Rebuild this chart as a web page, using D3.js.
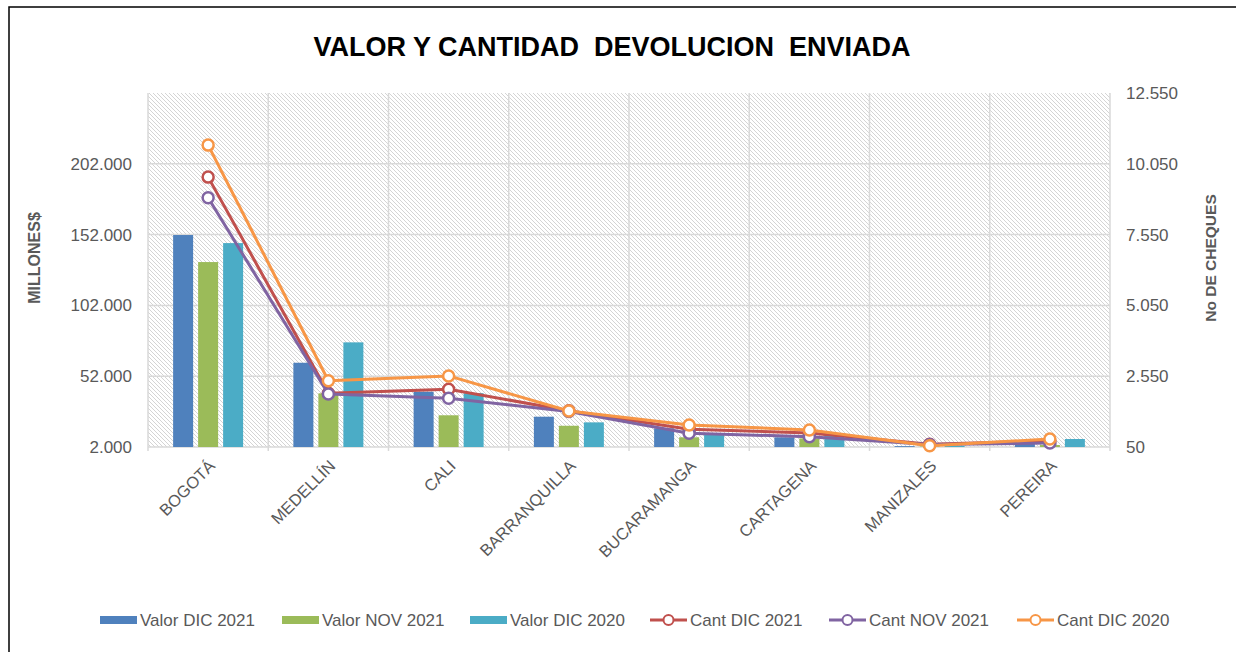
<!DOCTYPE html>
<html>
<head>
<meta charset="utf-8">
<script src="https://cdn.jsdelivr.net/npm/d3@7"></script>
<style>
  body { margin: 0; background: #fff; }
  text { font-family: "Liberation Sans", Arial, sans-serif; }
</style>
</head>
<body>
<div class="chart"></div>
<script>
// data
var categories = ["BOGOTÁ", "MEDELLÍN", "CALI", "BARRANQUILLA", "BUCARAMANGA", "CARTAGENA", "MANIZALES", "PEREIRA"];
var valorDic2021 = [151700, 61500, 41000, 23400, 15200, 8850, 2600, 4100];
var valorNov2021 = [132600, 39900, 24400, 17000, 8850, 8100, 2400, 3400];
var valorDic2020 = [146000, 75900, 40000, 19400, 10500, 11000, 2800, 7650];
var cantDic2021 = [9580, 1950, 2090, 1330, 680, 544, 150, 262];
var cantNov2021 = [8850, 1920, 1770, 1300, 534, 414, 140, 191];
var cantDic2020 = [10710, 2390, 2560, 1320, 827, 650, 96, 332];
var leftTicks = [2000, 52000, 102000, 152000, 202000];
var rightTicks = [50, 2550, 5050, 7550, 10050, 12550];

var barSeries = [
  {name: "Valor DIC 2021", values: valorDic2021, color: "#4F81BD"},
  {name: "Valor NOV 2021", values: valorNov2021, color: "#9BBB59"},
  {name: "Valor DIC 2020", values: valorDic2020, color: "#4BACC6"}
];
var lineSeries = [
  {name: "Cant DIC 2021", values: cantDic2021, color: "#C0504D"},
  {name: "Cant NOV 2021", values: cantNov2021, color: "#8064A2"},
  {name: "Cant DIC 2020", values: cantDic2020, color: "#F79646"}
];

var width = 1236, height = 652;
var pLeft = 148, pRight = 1110, pTop = 93, pBottom = 447;
var groupW = 70;

var loc = d3.formatLocale({decimal: ",", thousands: ".", grouping: [3], currency: ["", ""]});
var fmt = loc.format(",d");

var svg = d3.select(".chart").append("svg")
  .attr("width", width)
  .attr("height", height);

// hatch background
var defs = svg.append("defs");
defs.append("pattern")
  .attr("id", "hatch")
  .attr("patternUnits", "userSpaceOnUse")
  .attr("width", 4).attr("height", 4)
  .append("path")
  .attr("d", "M-1,-1L5,5M-1,3L1,5M3,-1L5,1")
  .attr("stroke", "#d4d4d4")
  .attr("stroke-width", 1);

// frame
svg.append("path")
  .attr("d", "M9," + height + "V7H" + width)
  .attr("fill", "none")
  .attr("stroke", "#000")
  .attr("stroke-width", 1.5);

var x = d3.scaleBand().domain(categories).range([pLeft, pRight]);
var xInner = d3.scaleBand().domain(barSeries.map(function(s) { return s.name; }))
  .range([0, groupW]).paddingInner(0.2);
var yL = d3.scaleLinear().domain([2000, 252000]).range([pBottom, pTop]);
var yR = d3.scaleLinear().domain([50, 12550]).range([pBottom, pTop]);

svg.append("rect")
  .attr("x", pLeft).attr("y", pTop)
  .attr("width", pRight - pLeft).attr("height", pBottom - pTop)
  .attr("fill", "url(#hatch)");

// grid
svg.append("g").selectAll("line")
  .data(leftTicks.slice(1))
  .enter().append("line")
  .attr("x1", pLeft).attr("x2", pRight)
  .attr("y1", function(d) { return yL(d); })
  .attr("y2", function(d) { return yL(d); })
  .attr("stroke", "#d9d9d9").attr("stroke-width", 1.5);

var bounds = categories.map(function(c) { return x(c); }).concat([pRight]);
svg.append("g").selectAll("line")
  .data(bounds)
  .enter().append("line")
  .attr("x1", function(d) { return d; }).attr("x2", function(d) { return d; })
  .attr("y1", pTop).attr("y2", pBottom + 4)
  .attr("stroke", "#d9d9d9").attr("stroke-width", 1.5);

svg.append("line")
  .attr("x1", pLeft).attr("x2", pRight)
  .attr("y1", pBottom).attr("y2", pBottom)
  .attr("stroke", "#d9d9d9").attr("stroke-width", 1.5);

// bars
barSeries.forEach(function(s) {
  svg.append("g").selectAll("rect")
    .data(s.values)
    .enter().append("rect")
    .attr("x", function(d, i) { return x(categories[i]) + (x.bandwidth() - groupW) / 2 + xInner(s.name); })
    .attr("width", xInner.bandwidth())
    .attr("y", function(d) { return yL(d); })
    .attr("height", function(d) { return pBottom - yL(d); })
    .attr("fill", s.color);
});

// lines
var line = d3.line()
  .x(function(d, i) { return x(categories[i]) + x.bandwidth() / 2; })
  .y(function(d) { return yR(d); });

lineSeries.forEach(function(s) {
  var g = svg.append("g");
  g.append("path")
    .attr("d", line(s.values))
    .attr("fill", "none")
    .attr("stroke", s.color)
    .attr("stroke-width", 3)
    .attr("stroke-linejoin", "round");
  g.selectAll("circle")
    .data(s.values)
    .enter().append("circle")
    .attr("cx", function(d, i) { return x(categories[i]) + x.bandwidth() / 2; })
    .attr("cy", function(d) { return yR(d); })
    .attr("r", 5.5)
    .attr("fill", "#fff")
    .attr("stroke", s.color)
    .attr("stroke-width", 2.5);
});

// axes
var axL = svg.append("g")
  .attr("transform", "translate(" + pLeft + ",0)")
  .call(d3.axisLeft(yL).tickValues(leftTicks).tickFormat(fmt).tickSize(0).tickPadding(16));
var axR = svg.append("g")
  .attr("transform", "translate(" + pRight + ",0)")
  .call(d3.axisRight(yR).tickValues(rightTicks).tickFormat(fmt).tickSize(0).tickPadding(16));
[axL, axR].forEach(function(a) {
  a.select(".domain").remove();
  a.selectAll("text").attr("fill", "#595959").style("font-size", "17px")
    .style("font-family", "'Liberation Sans', Arial, sans-serif");
});

var axX = svg.append("g")
  .attr("transform", "translate(0," + pBottom + ")")
  .call(d3.axisBottom(x).tickSize(0).tickPadding(0));
axX.select(".domain").remove();
axX.selectAll("text")
  .attr("fill", "#595959")
  .style("font-size", "16.5px")
  .style("font-family", "'Liberation Sans', Arial, sans-serif")
  .attr("text-anchor", "end")
  .attr("dy", null)
  .attr("y", 0)
  .attr("transform", "translate(8,20) rotate(-45)");

// axis titles
svg.append("text")
  .attr("transform", "translate(40,258) rotate(-90)")
  .attr("text-anchor", "middle")
  .attr("fill", "#595959")
  .style("font-size", "16px").style("font-weight", "bold")
  .text("MILLONES$");
svg.append("text")
  .attr("transform", "translate(1216,258) rotate(-90)")
  .attr("text-anchor", "middle")
  .attr("fill", "#595959")
  .style("font-size", "15.5px").style("font-weight", "bold")
  .text("No DE CHEQUES");

// title
svg.append("text")
  .attr("x", 612).attr("y", 56)
  .attr("text-anchor", "middle")
  .attr("fill", "#000")
  .style("font-size", "27px").style("font-weight", "bold")
  .style("white-space", "pre")
  .attr("xml:space", "preserve")
  .text("VALOR Y CANTIDAD  DEVOLUCION  ENVIADA");

// legend
var legendX = [100, 282, 470, 650, 829, 1017];
var legendItems = barSeries.concat(lineSeries);
var lg = svg.append("g").selectAll("g")
  .data(legendItems)
  .enter().append("g")
  .attr("transform", function(d, i) { return "translate(" + legendX[i] + ",620)"; });
lg.each(function(d, i) {
  var g = d3.select(this);
  if (i < 3) {
    g.append("rect").attr("x", 0).attr("y", -4).attr("width", 37).attr("height", 8).attr("fill", d.color);
  } else {
    g.append("line").attr("x1", 0).attr("x2", 37).attr("y1", 0).attr("y2", 0)
      .attr("stroke", d.color).attr("stroke-width", 3);
    g.append("circle").attr("cx", 18.5).attr("cy", 0).attr("r", 5)
      .attr("fill", "#fff").attr("stroke", d.color).attr("stroke-width", 2);
  }
  g.append("text").attr("x", 40).attr("y", 6)
    .attr("fill", "#595959").style("font-size", "17px")
    .text(d.name);
});
</script>
</body>
</html>
